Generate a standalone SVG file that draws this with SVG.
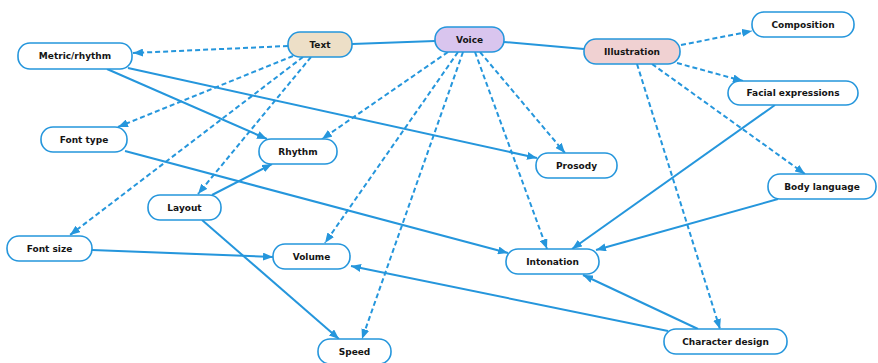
<svg xmlns="http://www.w3.org/2000/svg" width="878" height="363" viewBox="0 0 878 363">
  <style>
    .box { fill: #ffffff; stroke: #2596dc; stroke-width: 1.6; }
    .lbl { font-family: "DejaVu Sans", Verdana, sans-serif; font-weight: bold; font-size: 9px; fill: #151515; text-anchor: middle; }
    .edge { fill: none; stroke: #2596dc; stroke-width: 2; }
    .dash { stroke-dasharray: 5 3; }
    .arrow { marker-end: url(#head); }
  </style>
  <defs>
    <marker id="head" viewBox="0 0 10 8" refX="10" refY="4" markerWidth="10" markerHeight="8" markerUnits="userSpaceOnUse" orient="auto">
      <path d="M0,0 L10,4 L0,8 Z" fill="#2596dc"/>
    </marker>
  </defs>
  <rect width="878" height="363" fill="#ffffff"/>

  <g id="connectors">
    <!-- hub links -->
    <line class="edge" x1="352" y1="44" x2="435" y2="41"/>
    <line class="edge" x1="504" y1="42" x2="584" y2="49"/>

    <!-- Text -->
    <line class="edge dash arrow" x1="288" y1="46" x2="133" y2="53"/>
    <line class="edge dash arrow" x1="293" y1="56" x2="118" y2="127"/>
    <line class="edge dash arrow" x1="303" y1="57" x2="70" y2="235"/>
    <line class="edge dash arrow" x1="311" y1="57" x2="198" y2="194"/>

    <!-- Voice -->
    <line class="edge dash arrow" x1="448" y1="52" x2="322" y2="139"/>
    <line class="edge dash arrow" x1="458" y1="52" x2="325" y2="243"/>
    <line class="edge dash arrow" x1="463" y1="52" x2="362" y2="339"/>
    <line class="edge dash arrow" x1="475" y1="52" x2="547" y2="249"/>
    <line class="edge dash arrow" x1="480" y1="52" x2="565" y2="153"/>

    <!-- Illustration -->
    <line class="edge dash arrow" x1="681" y1="45" x2="752" y2="31"/>
    <line class="edge dash arrow" x1="677" y1="63" x2="743" y2="81"/>
    <line class="edge dash arrow" x1="652" y1="64" x2="805" y2="174"/>
    <line class="edge dash arrow" x1="637" y1="64" x2="720" y2="329"/>

    <!-- solid relations -->
    <line class="edge arrow" x1="107" y1="69" x2="267" y2="139"/>
    <line class="edge arrow" x1="128" y1="68" x2="537" y2="158"/>
    <line class="edge arrow" x1="125" y1="151" x2="508" y2="253"/>
    <line class="edge arrow" x1="212" y1="195" x2="272" y2="164"/>
    <line class="edge arrow" x1="202" y1="220" x2="339" y2="339"/>
    <line class="edge arrow" x1="92" y1="250" x2="273" y2="257"/>
    <line class="edge arrow" x1="775" y1="105" x2="572" y2="249"/>
    <line class="edge arrow" x1="778" y1="199" x2="596" y2="250"/>
    <line class="edge arrow" x1="668" y1="331" x2="351" y2="266"/>
    <line class="edge arrow" x1="698" y1="329" x2="583" y2="275"/>
  </g>

  <g id="node-metric">
    <rect class="box" x="18" y="43" width="114" height="26" rx="12"/>
    <text class="lbl" x="75" y="59.3">Metric/rhythm</text>
  </g>
  <g id="node-text">
    <rect class="box" x="288" y="32" width="64" height="25" rx="12" style="fill:#eddfc7"/>
    <text class="lbl" x="320" y="47.8">Text</text>
  </g>
  <g id="node-voice">
    <rect class="box" x="435" y="27" width="69" height="25" rx="12" style="fill:#d9c5ee"/>
    <text class="lbl" x="469.5" y="42.8">Voice</text>
  </g>
  <g id="node-illustration">
    <rect class="box" x="584" y="39" width="96" height="25" rx="12" style="fill:#f0d1d2"/>
    <text class="lbl" x="632" y="54.8">Illustration</text>
  </g>
  <g id="node-composition">
    <rect class="box" x="752" y="12" width="102" height="25" rx="12"/>
    <text class="lbl" x="803" y="27.8">Composition</text>
  </g>
  <g id="node-facial">
    <rect class="box" x="728" y="81" width="130" height="24" rx="12"/>
    <text class="lbl" x="793" y="96.3">Facial expressions</text>
  </g>
  <g id="node-fonttype">
    <rect class="box" x="41" y="127" width="86" height="25" rx="12"/>
    <text class="lbl" x="84" y="142.8">Font type</text>
  </g>
  <g id="node-rhythm">
    <rect class="box" x="259" y="139" width="78" height="25" rx="12"/>
    <text class="lbl" x="298" y="154.8">Rhythm</text>
  </g>
  <g id="node-prosody">
    <rect class="box" x="536" y="153" width="81" height="25" rx="12"/>
    <text class="lbl" x="576.5" y="168.8">Prosody</text>
  </g>
  <g id="node-body">
    <rect class="box" x="768" y="174" width="108" height="25" rx="12"/>
    <text class="lbl" x="822" y="189.8">Body language</text>
  </g>
  <g id="node-layout">
    <rect class="box" x="148" y="195" width="73" height="25" rx="12"/>
    <text class="lbl" x="184.5" y="210.8">Layout</text>
  </g>
  <g id="node-fontsize">
    <rect class="box" x="7" y="236" width="85" height="25" rx="12"/>
    <text class="lbl" x="49.5" y="251.8">Font size</text>
  </g>
  <g id="node-volume">
    <rect class="box" x="273" y="244" width="77" height="25" rx="12"/>
    <text class="lbl" x="311.5" y="259.8">Volume</text>
  </g>
  <g id="node-intonation">
    <rect class="box" x="506" y="249" width="93" height="25" rx="12"/>
    <text class="lbl" x="552.5" y="264.8">Intonation</text>
  </g>
  <g id="node-speed">
    <rect class="box" x="318" y="339" width="73" height="25" rx="12"/>
    <text class="lbl" x="354.5" y="355">Speed</text>
  </g>
  <g id="node-character">
    <rect class="box" x="664" y="329" width="123" height="25" rx="12"/>
    <text class="lbl" x="725.5" y="344.8">Character design</text>
  </g>
</svg>
